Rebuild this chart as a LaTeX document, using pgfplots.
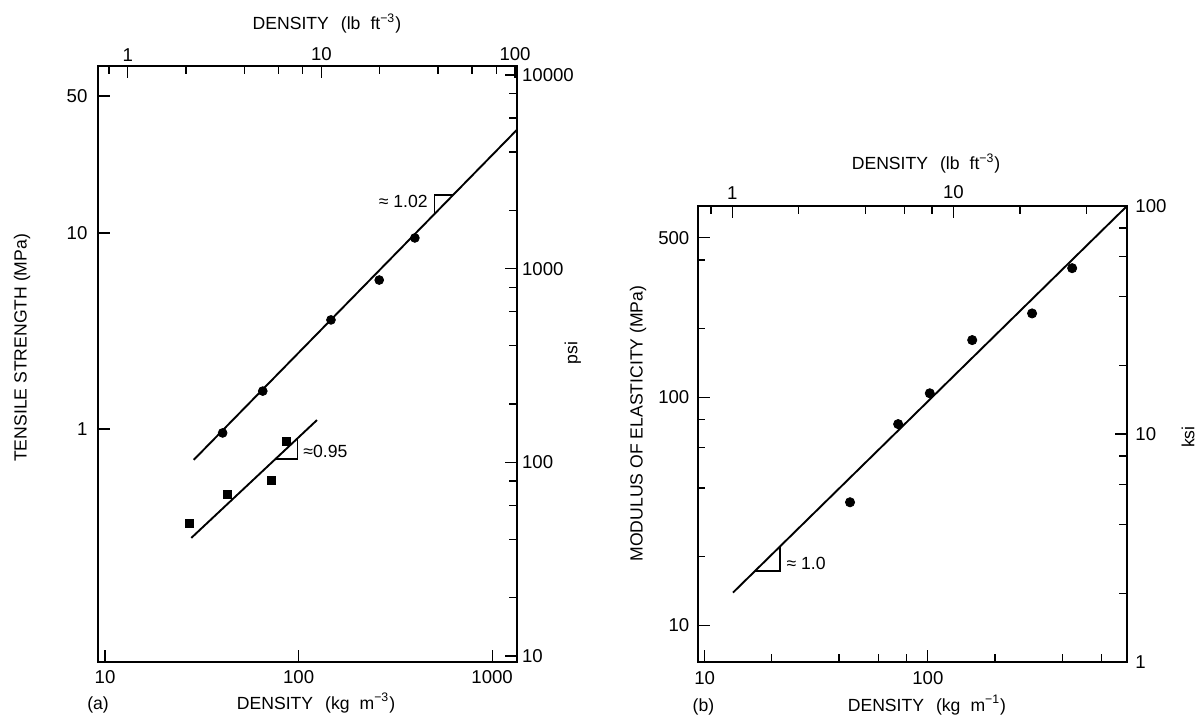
\documentclass[border=0pt]{standalone}
\usepackage{fontspec}
\setmainfont{Liberation Sans}
\usepackage{pgfplots}
\pgfplotsset{compat=1.18}
\pgfplotsset{
  base/.style={
    scale only axis, anchor=south west, clip=false,
    axis line style={line width=0.8pt},
    every tick/.style={black, line width=0.6pt},
    major tick length=6pt, minor tick length=3.8pt,
    tick align=inside,
    tick label style={font=\fontsize{9.3}{11}\selectfont},
  },
}
\begin{document}
\fontsize{8.8}{10.5}\selectfont
\begin{tikzpicture}
\useasboundingbox (0,0) rectangle (597.5pt,-358pt);

% ---------------- Panel (a) ----------------
\begin{axis}[base, at={(48.9pt,-331pt)}, width=209.45pt, height=298pt,
  xmode=log, ymode=log, xmin=9.17, xmax=1340, ymin=0.0647, ymax=71.1,
  xtick={10,100,1000}, xticklabels={10,100,1000}, xminorticks=false, xtick pos=left,
  ytick={1,10,50}, yticklabels={1,10,50}, yminorticks=false, ytick pos=left,
  xticklabel style={anchor=north, inner sep=0pt, yshift=-4.25pt},
  yticklabel style={anchor=east, inner sep=0pt, xshift=-5pt},
  xlabel={DENSITY\hspace{6pt}(kg\hspace{5pt}m\textsuperscript{−3})},
  xlabel style={at={(axis description cs:0.521,-0.0789)}, anchor=base},
  ylabel={TENSILE STRENGTH (MPa)},
  ylabel style={at={(axis description cs:-0.181,0.527)}, anchor=center},
]
\addplot[only marks, mark=*, mark size=2.2pt] coordinates {(40.5,0.954) (65.3,1.56) (147,3.60) (261,5.75) (399,9.43)};
\addplot[no marks, line width=0.95pt] coordinates {(28.7,0.695) (1340,33.5)};
\addplot[only marks, mark=square*, mark size=2pt] coordinates {(27.2,0.331) (42.8,0.461) (72,0.549) (86,0.859)};
\addplot[no marks, line width=0.95pt] coordinates {(27.9,0.278) (124.5,1.11)};
\addplot[no marks, line width=0.7pt] coordinates {(504,12.5) (504,15.6) (628,15.6)};
\addplot[no marks, line width=0.7pt] coordinates {(76,0.703) (98.6,0.703) (98.6,0.898)};
\node[anchor=east, inner sep=0pt] at (axis cs:467,14.4) {≈ 1.02};
\node[anchor=west, inner sep=0pt] at (axis cs:105.5,0.766) {≈0.95};
\node[anchor=base] at (axis description cs:0.0005,-0.0789) {(a)};
\end{axis}
% top axis (a)
\begin{axis}[base, at={(48.9pt,-331pt)}, width=209.45pt, height=298pt,
  xmode=log, xmin=0.701, xmax=102, ymin=0, ymax=1, ytick=\empty,
  xtick={1,10,100}, xticklabels={1,10,100},
  minor xtick={0.8,2,4,6,8,20,40,60,80},
  xtick pos=right, xticklabel pos=right,
  xticklabel style={anchor=south, inner sep=0pt, yshift=2.25pt},
  xlabel={DENSITY\hspace{6pt}(lb\hspace{5pt}ft\textsuperscript{−3})},
  xlabel style={at={(axis description cs:0.547,1.0604)}, anchor=base},
]
\end{axis}
% right axis (a)
\begin{axis}[base, at={(48.9pt,-331pt)}, width=209.45pt, height=298pt,
  ymode=log, ymin=9.31, ymax=11130, xmin=0, xmax=1, xtick=\empty,
  ytick={10,100,1000,10000}, yticklabels={10,100,1000,10000},
  minor ytick={20,40,60,80,200,400,600,800,2000,4000,6000,8000},
  ytick pos=right, yticklabel pos=right,
  yticklabel style={anchor=west, inner sep=0pt, xshift=2.5pt},
  ylabel={psi},
  ylabel style={at={(axis description cs:1.134,0.518)}, anchor=center},
]
\end{axis}

% ---------------- Panel (b) ----------------
\begin{axis}[base, at={(348.85pt,-331pt)}, width=214.65pt, height=228pt,
  xmode=log, ymode=log, xmin=9.31, xmax=780, ymin=6.895, ymax=689.5,
  xtick={10,100}, xticklabels={10,100},
  minor xtick={20,40,60,80,200,400,600}, xtick pos=left,
  ytick={10,100,500}, yticklabels={10,100,500},
  minor ytick={20,40,60,80,200,400}, ytick pos=left,
  xticklabel style={anchor=north, inner sep=0pt, yshift=-4.75pt},
  yticklabel style={anchor=east, inner sep=0pt, xshift=-4pt},
  xlabel={DENSITY\hspace{6pt}(kg\hspace{5pt}m\textsuperscript{−1})},
  xlabel style={at={(axis description cs:0.534,-0.1075)}, anchor=base},
  ylabel={MODULUS OF ELASTICITY (MPa)},
  ylabel style={at={(axis description cs:-0.139,0.523)}, anchor=center},
]
\addplot[only marks, mark=*, mark size=2.3pt] coordinates {(44.8,34.6) (73.6,76.2) (102,104) (158,178) (293,233) (443,368)};
\addplot[no marks, line width=0.95pt] coordinates {(13.4,13.9) (780,689.5)};
\addplot[no marks, line width=0.7pt] coordinates {(16.8,17.3) (21.8,17.3) (21.8,22.1)};
\node[anchor=west, inner sep=0pt] at (axis cs:23.2,18.7) {≈ 1.0};
\node[anchor=base] at (axis description cs:0.0135,-0.1075) {(b)};
\end{axis}
% top axis (b)
\begin{axis}[base, at={(348.85pt,-331pt)}, width=214.65pt, height=228pt,
  xmode=log, xmin=0.697, xmax=61.0, ymin=0, ymax=1, ytick=\empty,
  xtick={1,10}, xticklabels={1,10},
  minor xtick={0.8,2,4,6,8,20,40},
  xtick pos=right, xticklabel pos=right,
  xticklabel style={anchor=south, inner sep=0pt, yshift=3.25pt},
  xlabel={DENSITY\hspace{6pt}(lb\hspace{5pt}ft\textsuperscript{−3})},
  xlabel style={at={(axis description cs:0.532,1.079)}, anchor=base},
]
\end{axis}
% right axis (b)
\begin{axis}[base, at={(348.85pt,-331pt)}, width=214.65pt, height=228pt,
  ymode=log, ymin=1, ymax=100, xmin=0, xmax=1, xtick=\empty,
  ytick={1,10,100}, yticklabels={1,10,100},
  minor ytick={2,4,6,8,20,40,60,80},
  ytick pos=right, yticklabel pos=right,
  yticklabel style={anchor=west, inner sep=0pt, xshift=4pt},
  ylabel={ksi},
  ylabel style={at={(axis description cs:1.142,0.493)}, anchor=center},
]
\end{axis}
\end{tikzpicture}
\end{document}
